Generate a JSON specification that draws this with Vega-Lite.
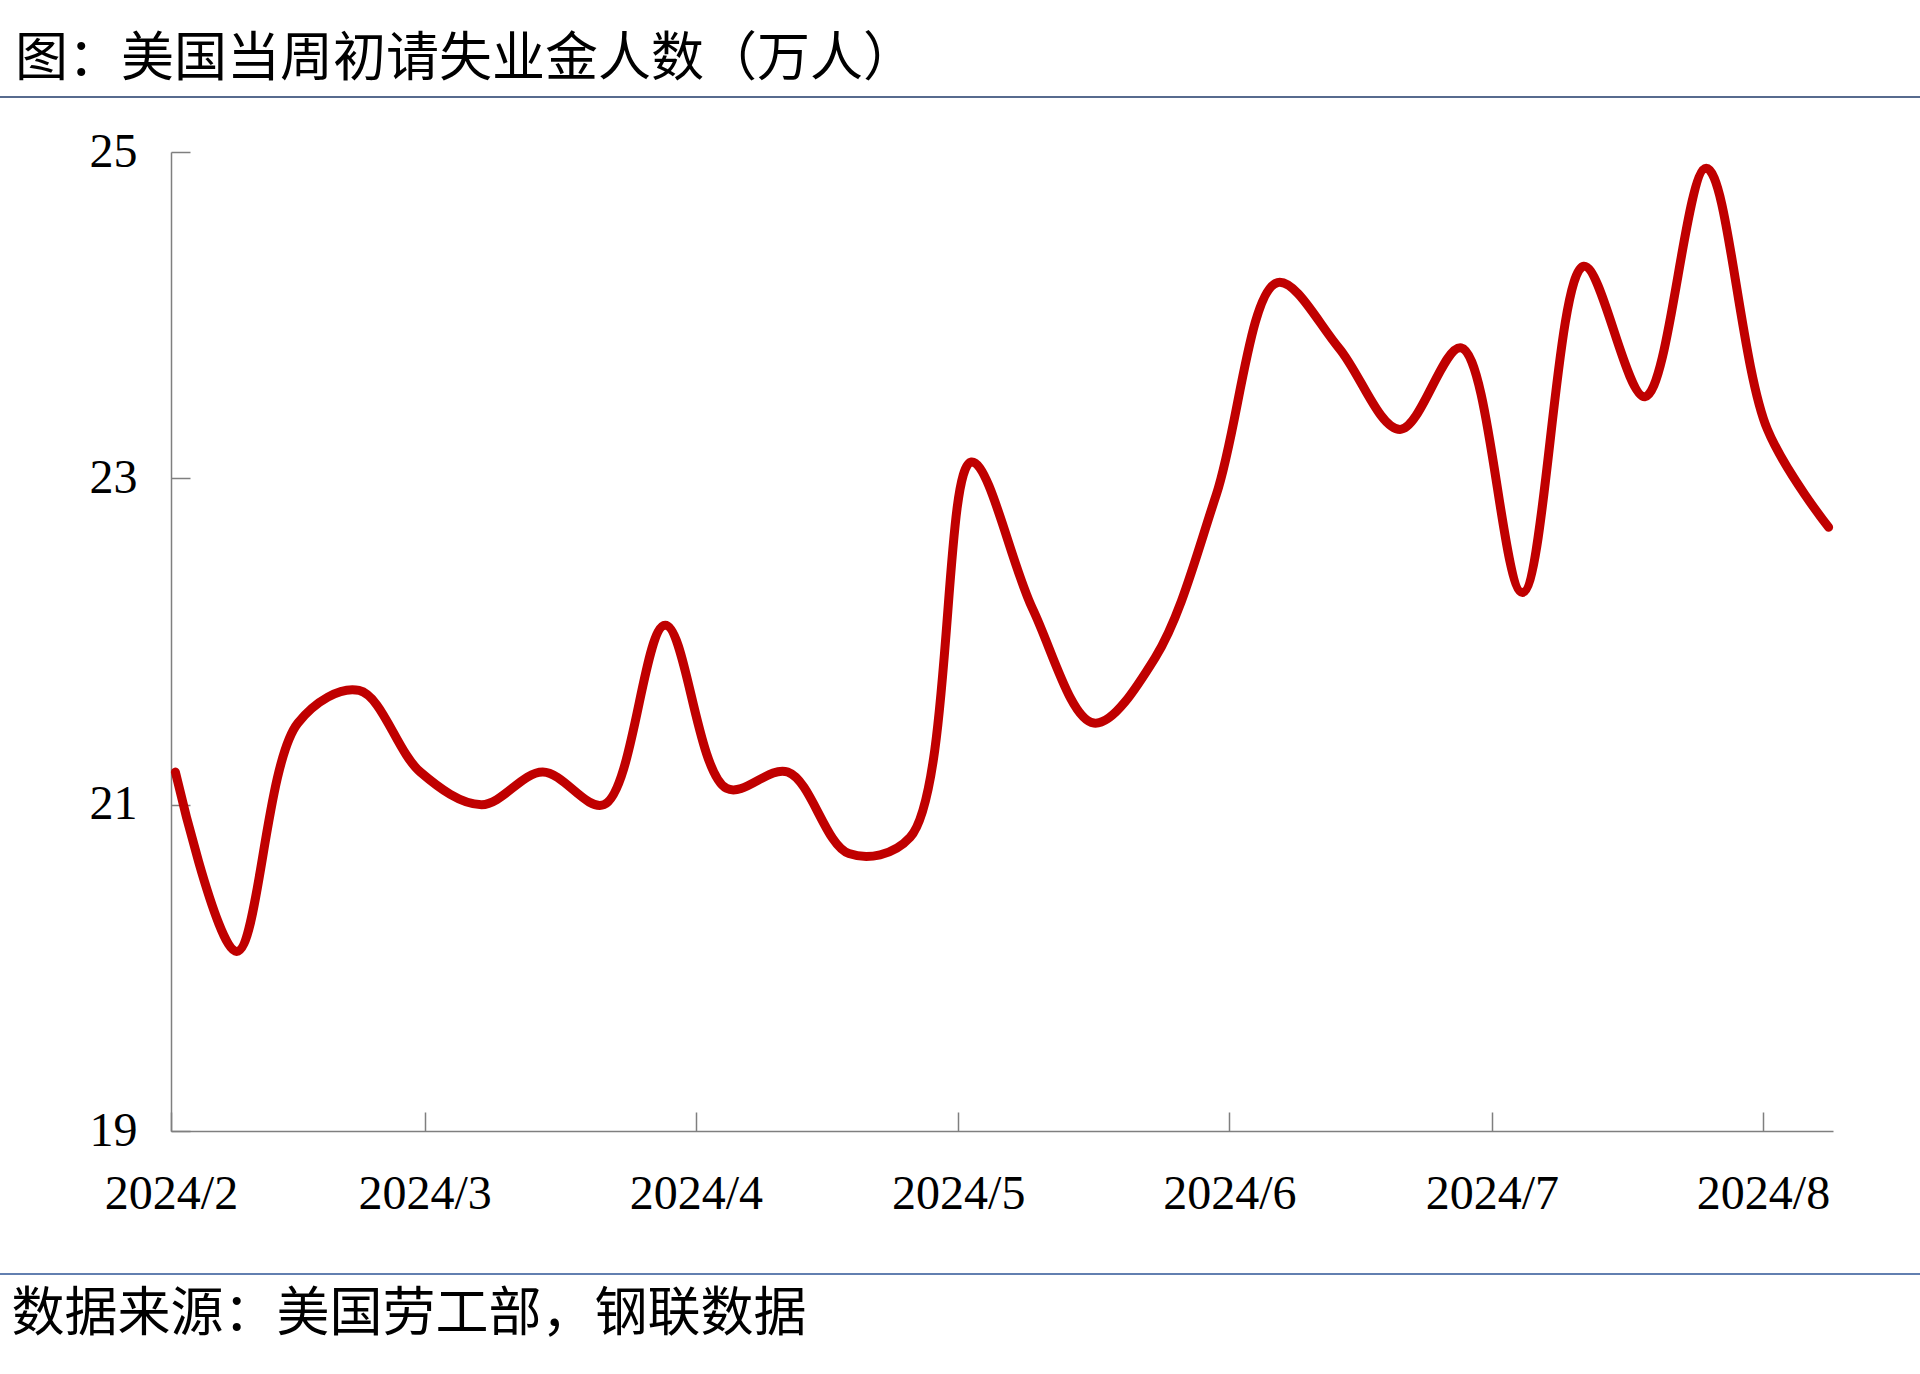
{
  "$schema": "https://vega.github.io/schema/vega-lite/v6.json",
  "width": 1662,
  "height": 979,
  "autosize": {"type": "none"},
  "padding": {"left": 171, "top": 152, "right": 87, "bottom": 243},
  "background": "white",
  "config": {"view": {"stroke": null}},
  "title": {
    "text": "图：美国当周初请失业金人数（万人）",
    "anchor": "start",
    "frame": "group",
    "dx": -156,
    "offset": 9,
    "font": "Noto Sans CJK SC",
    "fontSize": 53,
    "fontWeight": "normal",
    "color": "#000000"
  },
  "layer": [
    {
      "data": {"values": [{}]},
      "mark": {"type": "rule", "color": "#1F3A68", "strokeWidth": 1.5, "clip": false},
      "encoding": {
        "x": {"datum": {"year": 2024, "month": 1, "date": 1, "utc": true}, "type": "temporal"},
        "x2": {"datum": {"year": 2024, "month": 9, "date": 1, "utc": true}},
        "y": {"datum": 25.337, "type": "quantitative"}
      }
    },
    {
      "data": {"values": [{}]},
      "mark": {"type": "rule", "color": "#2E5596", "strokeWidth": 1.5, "clip": false},
      "encoding": {
        "x": {"datum": {"year": 2024, "month": 1, "date": 1, "utc": true}, "type": "temporal"},
        "x2": {"datum": {"year": 2024, "month": 9, "date": 1, "utc": true}},
        "y": {"datum": 18.124, "type": "quantitative"}
      }
    },
    {
      "data": {
        "values": [
          {"date": "2024-02-01T12:00:00Z", "claims": 21.2},
          {"date": "2024-02-08T12:00:00Z", "claims": 20.1},
          {"date": "2024-02-15T12:00:00Z", "claims": 21.5},
          {"date": "2024-02-22T12:00:00Z", "claims": 21.7},
          {"date": "2024-02-29T12:00:00Z", "claims": 21.2},
          {"date": "2024-03-07T12:00:00Z", "claims": 21.0},
          {"date": "2024-03-14T12:00:00Z", "claims": 21.2},
          {"date": "2024-03-21T12:00:00Z", "claims": 21.0},
          {"date": "2024-03-28T12:00:00Z", "claims": 22.1},
          {"date": "2024-04-04T12:00:00Z", "claims": 21.1},
          {"date": "2024-04-11T12:00:00Z", "claims": 21.2},
          {"date": "2024-04-18T12:00:00Z", "claims": 20.7},
          {"date": "2024-04-25T12:00:00Z", "claims": 20.8},
          {"date": "2024-05-02T12:00:00Z", "claims": 23.1},
          {"date": "2024-05-09T12:00:00Z", "claims": 22.2},
          {"date": "2024-05-16T12:00:00Z", "claims": 21.5},
          {"date": "2024-05-23T12:00:00Z", "claims": 21.9},
          {"date": "2024-05-30T12:00:00Z", "claims": 22.9},
          {"date": "2024-06-06T12:00:00Z", "claims": 24.2},
          {"date": "2024-06-13T12:00:00Z", "claims": 23.8},
          {"date": "2024-06-20T12:00:00Z", "claims": 23.3},
          {"date": "2024-06-27T12:00:00Z", "claims": 23.8},
          {"date": "2024-07-04T12:00:00Z", "claims": 22.3},
          {"date": "2024-07-11T12:00:00Z", "claims": 24.3},
          {"date": "2024-07-18T12:00:00Z", "claims": 23.5},
          {"date": "2024-07-25T12:00:00Z", "claims": 24.9},
          {"date": "2024-08-01T12:00:00Z", "claims": 23.3},
          {"date": "2024-08-08T12:00:00Z", "claims": 22.7}
        ]
      },
      "mark": {
        "type": "line",
        "color": "#C00000",
        "strokeWidth": 9,
        "interpolate": "catmull-rom",
        "strokeCap": "round",
        "strokeJoin": "round"
      },
      "encoding": {
        "x": {
          "field": "date",
          "type": "temporal",
          "scale": {
            "type": "utc",
            "domain": [
              {"year": 2024, "month": 2, "date": 1, "utc": true},
              {"year": 2024, "month": 8, "date": 9, "utc": true}
            ],
            "nice": false
          },
          "axis": {
            "title": "数据来源：美国劳工部，钢联数据",
            "titleFont": "Noto Sans CJK SC",
            "titleFontSize": 53,
            "titleFontWeight": "normal",
            "titleColor": "#000000",
            "titleAnchor": "start",
            "titleAlign": "left",
            "titleBaseline": "middle",
            "titleX": -160,
            "titleY": 183,
            "values": [
              {"year": 2024, "month": 2, "date": 1, "utc": true},
              {"year": 2024, "month": 3, "date": 1, "utc": true},
              {"year": 2024, "month": 4, "date": 1, "utc": true},
              {"year": 2024, "month": 5, "date": 1, "utc": true},
              {"year": 2024, "month": 6, "date": 1, "utc": true},
              {"year": 2024, "month": 7, "date": 1, "utc": true},
              {"year": 2024, "month": 8, "date": 1, "utc": true}
            ],
            "labelExpr": "utcFormat(datum.value, '%Y/%-m')",
            "labelFont": "Liberation Serif",
            "labelFontSize": 48,
            "labelColor": "#000000",
            "labelBaseline": "middle",
            "labelPadding": 82,
            "labelFlush": false,
            "labelOverlap": false,
            "tickSize": -19,
            "tickColor": "#7f7f7f",
            "tickWidth": 1.5,
            "domainColor": "#7f7f7f",
            "domainWidth": 1.5,
            "grid": false
          }
        },
        "y": {
          "field": "claims",
          "type": "quantitative",
          "scale": {"domain": [19, 25], "nice": false, "zero": false},
          "axis": {
            "title": null,
            "values": [19, 21, 23, 25],
            "format": "d",
            "labelFont": "Liberation Serif",
            "labelFontSize": 48,
            "labelColor": "#000000",
            "labelBaseline": "middle",
            "labelPadding": 53,
            "tickSize": -19,
            "tickColor": "#7f7f7f",
            "tickWidth": 1.5,
            "domainColor": "#7f7f7f",
            "domainWidth": 1.5,
            "grid": false
          }
        }
      }
    }
  ]
}
